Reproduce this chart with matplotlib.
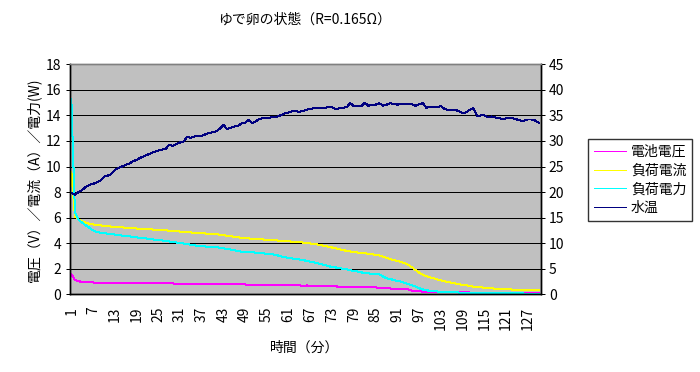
import matplotlib
matplotlib.use('Agg')
import matplotlib.pyplot as plt
import numpy as np

plt.rcParams['font.family'] = ['Noto Sans CJK JP', 'DejaVu Sans']

# minutes 1..130
minutes = list(range(1, 131))

voltage = [1.59, 1.10, 1.04, 0.94, 0.94, 0.94, 0.94, 0.86, 0.86, 0.86,
           0.86, 0.86, 0.86, 0.86, 0.86, 0.86, 0.86, 0.86, 0.86, 0.86,
           0.86, 0.86, 0.86, 0.86, 0.86, 0.86, 0.86, 0.86, 0.86, 0.78,
           0.78, 0.78, 0.78, 0.78, 0.78, 0.78, 0.78, 0.78, 0.78, 0.78,
           0.78, 0.78, 0.78, 0.78, 0.78, 0.78, 0.78, 0.78, 0.78, 0.70,
           0.70, 0.70, 0.70, 0.70, 0.70, 0.70, 0.70, 0.70, 0.70, 0.70,
           0.70, 0.70, 0.70, 0.70, 0.64, 0.70, 0.64, 0.64, 0.64, 0.64,
           0.64, 0.64, 0.64, 0.64, 0.55, 0.55, 0.55, 0.55, 0.55, 0.55,
           0.55, 0.55, 0.55, 0.55, 0.55, 0.47, 0.47, 0.47, 0.47, 0.39,
           0.39, 0.39, 0.39, 0.39, 0.28, 0.28, 0.28, 0.20, 0.20, 0.20,
           0.20, 0.15, 0.15, 0.15, 0.15, 0.15, 0.15, 0.15, 0.20, 0.20,
           0.13, 0.13, 0.13, 0.13, 0.13, 0.08, 0.08, 0.08, 0.08, 0.08,
           0.08, 0.08, 0.08, 0.08, 0.08, 0.08, 0.08, 0.08, 0.08, 0.08]

current = [9.60, 6.10, 5.85, 5.70, 5.60, 5.52, 5.47, 5.43, 5.40, 5.36,
           5.33, 5.30, 5.28, 5.26, 5.24, 5.21, 5.19, 5.17, 5.15, 5.13,
           5.11, 5.10, 5.08, 5.06, 5.04, 5.03, 5.01, 4.98, 4.96, 4.93,
           4.91, 4.88, 4.86, 4.84, 4.82, 4.80, 4.78, 4.76, 4.74, 4.72,
           4.70, 4.66, 4.62, 4.58, 4.54, 4.50, 4.46, 4.42, 4.39, 4.37,
           4.35, 4.33, 4.31, 4.29, 4.27, 4.25, 4.23, 4.21, 4.19, 4.17,
           4.15, 4.12, 4.10, 4.07, 4.05, 4.02, 3.98, 3.94, 3.89, 3.84,
           3.78, 3.72, 3.66, 3.60, 3.52, 3.46, 3.40, 3.35, 3.31, 3.27,
           3.24, 3.21, 3.17, 3.13, 3.09, 3.04, 2.95, 2.85, 2.76, 2.68,
           2.60, 2.53, 2.45, 2.30, 2.12, 1.90, 1.70, 1.52, 1.42, 1.33,
           1.25, 1.17, 1.10, 1.02, 0.96, 0.90, 0.84, 0.78, 0.74, 0.70,
           0.65, 0.60, 0.57, 0.54, 0.52, 0.50, 0.47, 0.44, 0.42, 0.40,
           0.39, 0.38, 0.37, 0.36, 0.35, 0.34, 0.33, 0.32, 0.31, 0.31]

power = [15.30, 6.40, 5.85, 5.60, 5.40, 5.20, 5.00, 4.88, 4.82, 4.78,
         4.75, 4.72, 4.68, 4.65, 4.60, 4.57, 4.53, 4.50, 4.46, 4.42,
         4.40, 4.36, 4.32, 4.28, 4.25, 4.22, 4.18, 4.14, 4.10, 4.05,
         4.02, 3.98, 3.93, 3.88, 3.83, 3.78, 3.76, 3.74, 3.72, 3.70,
         3.68, 3.65, 3.60, 3.55, 3.50, 3.44, 3.38, 3.34, 3.32, 3.30,
         3.28, 3.26, 3.24, 3.20, 3.17, 3.15, 3.10, 3.04, 2.96, 2.90,
         2.84, 2.80, 2.76, 2.72, 2.67, 2.62, 2.55, 2.50, 2.42, 2.35,
         2.28, 2.20, 2.14, 2.10, 2.05, 2.00, 1.95, 1.88, 1.84, 1.78,
         1.72, 1.66, 1.64, 1.60, 1.58, 1.56, 1.40, 1.26, 1.20, 1.12,
         1.05, 1.00, 0.90, 0.80, 0.70, 0.60, 0.48, 0.38, 0.32, 0.27,
         0.24, 0.22, 0.20, 0.19, 0.18, 0.16, 0.15, 0.14, 0.13, 0.12,
         0.11, 0.10, 0.10, 0.09, 0.09, 0.08, 0.08, 0.08, 0.08, 0.07,
         0.07, 0.07, 0.07, 0.07, 0.07, 0.06, 0.06, 0.06, 0.06, 0.06]

water_temp = [19.8, 19.5, 20.0, 20.4, 21.0, 21.4, 21.6, 21.9, 22.2, 23.0,
              23.2, 23.5, 24.3, 24.7, 25.0, 25.3, 25.6, 26.0, 26.3, 26.7,
              27.0, 27.3, 27.6, 27.9, 28.1, 28.3, 28.4, 29.3, 29.0, 29.4,
              29.7, 29.9, 30.8, 30.6, 30.9, 31.0, 31.0, 31.3, 31.6, 31.7,
              31.9, 32.4, 33.2, 32.3, 32.6, 32.8, 33.0, 33.4, 33.6, 34.1,
              33.5, 33.9, 34.3, 34.5, 34.4, 34.6, 34.7, 34.8, 35.1, 35.4,
              35.6, 35.8, 35.8, 35.7, 35.9, 36.1, 36.3, 36.4, 36.4, 36.4,
              36.5, 36.6, 36.6, 36.2, 36.4, 36.5, 36.6, 37.4, 36.8, 36.8,
              36.8, 37.5, 36.9, 37.0, 37.1, 37.4, 36.9, 37.1, 37.4, 37.2,
              37.1, 37.3, 37.3, 37.3, 37.2, 36.9, 37.2, 37.4, 36.5, 36.7,
              36.6, 36.6, 36.8, 36.3, 36.0, 36.1, 36.1, 35.8, 35.5, 35.6,
              36.1, 36.4, 34.9, 35.0, 35.0, 34.6, 34.8, 34.6, 34.5, 34.3,
              34.4, 34.4, 34.4, 34.2, 34.0, 34.0, 34.2, 34.2, 34.0, 33.6]

labels = ['電池電圧', '負荷電流', '負荷電力', '水温']
colors = ['#FF00FF', '#FFFF00', '#00FFFF', '#000080']

px = 0.72  # one pixel at dpi 100

fig = plt.figure(figsize=(7.0, 3.72), dpi=100)
ax = fig.add_axes([69.5 / 700, 1 - 294.3 / 372, 471 / 700, 230 / 372])
ax.set_facecolor('#C0C0C0')
ax2 = ax.twinx()

l1, = ax.plot(minutes, voltage, color=colors[0], lw=px, antialiased=False)
l2, = ax.plot(minutes, current, color=colors[1], lw=px, antialiased=False)
l3, = ax.plot(minutes, power, color=colors[2], lw=px, antialiased=False)
l4, = ax2.plot(minutes, water_temp, color=colors[3], lw=px, antialiased=False)

ax.set_xlim(0.5, 130.5)
ax.set_ylim(0, 18)
ax2.set_ylim(0, 45)
ax.set_yticks(np.arange(0, 19, 2))
ax2.set_yticks(np.arange(0, 46, 5))
ax.set_xticks(minutes[::6])
ax.set_xticklabels([str(m) for m in minutes[::6]], rotation=90)
ax.yaxis.grid(True, color='black', lw=px, antialiased=False)
ax.set_axisbelow(True)

for a in (ax, ax2):
    a.tick_params(direction='out', length=3, width=px, labelsize=10, pad=3)
    a.spines['top'].set_color('#808080')
    for s in ('left', 'right', 'bottom', 'top'):
        a.spines[s].set_linewidth(1.0)
    for s in ('left', 'right', 'bottom'):
        a.spines[s].set_color('black')
ax.tick_params(axis='x', length=0, pad=9)

ax.set_xlabel('時間（分）', fontsize=10, labelpad=8)
ax.set_ylabel('電圧（V）／電流（A）／電力(W)', fontsize=10, labelpad=3)
fig.text(305 / 700, 1 - 20 / 372, 'ゆで卵の状態（R=0.165Ω）', ha='center', va='center', fontsize=10)

leg = fig.legend([l1, l2, l3, l4], labels, loc='upper left',
                 bbox_to_anchor=(588 / 700, 1 - 139 / 372), borderaxespad=0,
                 fontsize=10, frameon=True, fancybox=False, handlelength=2.3,
                 labelspacing=0.35, handletextpad=0.4, borderpad=0.4)
leg.get_frame().set_edgecolor('black')
leg.get_frame().set_linewidth(1)

fig.savefig('out.png', dpi=100, facecolor='white')
